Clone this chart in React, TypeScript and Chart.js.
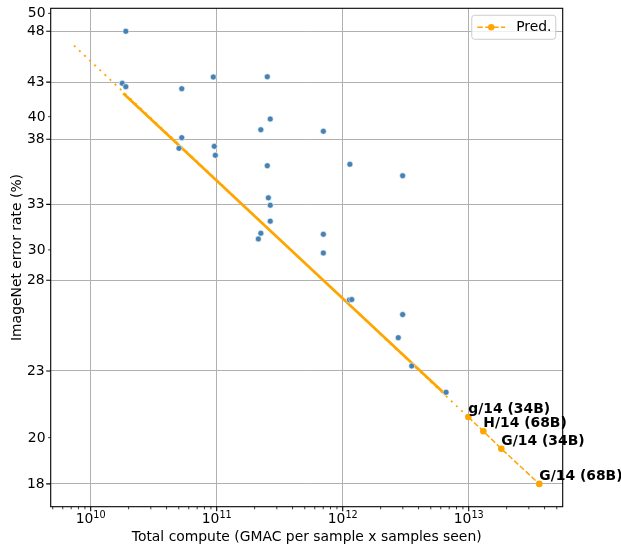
import React, { useEffect, useRef } from 'react';
import { Chart, registerables } from 'chart.js';

Chart.register(...registerables);

const FONT = "'DejaVu Sans', sans-serif";

// Observed models: total compute (GMAC) and ImageNet error rate (%)
const obsCompute = [
  1.9e10, 1.78e10, 1.9e10, 5.28e10, 5.28e10, 5.02e10, 9.4e10, 2.52e11, 2.66e11, 2.24e11,
  7.02e11, 9.57e10, 9.75e10, 2.52e11, 1.14e12, 2.57e11, 2.66e11, 2.66e11, 2.24e11, 2.14e11,
  7.02e11, 7.02e11, 2.99e12, 1.13e12, 1.18e12, 2.76e12, 2.99e12, 3.53e12, 6.61e12,
];
const obsError = [
  48.1, 42.99, 42.68, 42.49, 38.23, 37.36, 43.58, 43.6, 39.8, 38.89,
  38.76, 37.52, 36.8, 35.98, 36.09, 33.57, 33.04, 31.92, 31.1, 30.72,
  31.03, 29.8, 35.21, 26.93, 26.95, 24.82, 26.09, 23.35, 22.06,
];

// Predicted models
const predLabels = ['g/14 (34B)', 'H/14 (68B)', 'G/14 (34B)', 'G/14 (68B)'];
const predCompute = [9.93e12, 1.306e13, 1.814e13, 3.63e13];
const predError = [20.91, 20.28, 19.53, 18.1];

// Fitted power law: solid over observed range, dotted extrapolation
const fitSolidCompute = [1.81e10, 6.61e12];
const fitSolidError = [42.08, 21.93];
const fitDottedCompute = [7.37e9, 9.93e12];
const fitDottedError = [46.64, 20.91];

// Axes
const xRange = [4.815e9, 5.57e13];
const yRange = [17.23, 50.55];
const xMajorTicks = [1e10, 1e11, 1e12, 1e13];
const xMajorExponents = ['10', '11', '12', '13'];
const yMajorTicks = [18.1, 23.1, 28.1, 33.1, 38.1, 43.1, 48.1];
const yMajorLabels = ['18', '23', '28', '33', '38', '43', '48'];
const yMinorTicks = [20, 30, 40, 50];
const yMinorLabels = ['20', '30', '40', '50'];

const xTitle = 'Total compute (GMAC per sample x samples seen)';
const yTitle = 'ImageNet error rate (%)';
const legendLabel = 'Pred.';

const ORANGE = '#ffa500';
const BLUE = '#4682b4';

const toPoints = (xs: number[], ys: number[]) => xs.map((x, i) => ({ x, y: ys[i] }));

const xMinorTicks = (() => {
  const out: number[] = [];
  for (let e = 9; e <= 13; e++) {
    for (let m = 2; m <= 9; m++) {
      const v = m * Math.pow(10, e);
      if (v > xRange[0] && v < xRange[1]) out.push(v);
    }
  }
  return out;
})();

const mplPlugin = {
  id: 'mplAxes',
  afterDraw(chart: any) {
    const ctx = chart.ctx as CanvasRenderingContext2D;
    const { left, right, top, bottom } = chart.chartArea;
    const xs = chart.scales.x;
    const ys = chart.scales.y;
    const TL = 4.5;
    const TLm = 2.6;
    ctx.save();

    // annotations for predictions
    ctx.fillStyle = '#000';
    ctx.font = `bold 13.9px ${FONT}`;
    ctx.textAlign = 'left';
    ctx.textBaseline = 'alphabetic';
    predLabels.forEach((lab, i) => {
      const px = xs.getPixelForValue(predCompute[i]);
      const py = ys.getPixelForValue(predError[i]);
      ctx.fillText(lab, px, py - 4);
    });

    // frame
    ctx.strokeStyle = '#000';
    ctx.lineWidth = 1.1;
    ctx.setLineDash([]);
    ctx.strokeRect(left, top, right - left, bottom - top);

    // x ticks
    ctx.lineWidth = 1.1;
    ctx.beginPath();
    xMajorTicks.forEach((v) => {
      const p = xs.getPixelForValue(v);
      ctx.moveTo(p, bottom);
      ctx.lineTo(p, bottom + TL);
    });
    ctx.stroke();
    ctx.lineWidth = 0.8;
    ctx.beginPath();
    xMinorTicks.forEach((v) => {
      const p = xs.getPixelForValue(v);
      ctx.moveTo(p, bottom);
      ctx.lineTo(p, bottom + TLm);
    });
    ctx.stroke();

    // x tick labels 10^n
    xMajorTicks.forEach((v, i) => {
      const p = xs.getPixelForValue(v);
      ctx.font = `13.9px ${FONT}`;
      const wb = ctx.measureText('10').width;
      ctx.font = `9.7px ${FONT}`;
      const we = ctx.measureText(xMajorExponents[i]).width;
      const start = p - (wb + we) / 2;
      ctx.font = `13.9px ${FONT}`;
      ctx.textAlign = 'left';
      ctx.textBaseline = 'alphabetic';
      ctx.fillText('10', start, 523.3);
      ctx.font = `9.7px ${FONT}`;
      ctx.fillText(xMajorExponents[i], start + wb, 518.3);
    });

    // y ticks
    ctx.lineWidth = 1.1;
    ctx.beginPath();
    yMajorTicks.forEach((v) => {
      const p = ys.getPixelForValue(v);
      ctx.moveTo(left, p);
      ctx.lineTo(left - TL, p);
    });
    ctx.stroke();
    ctx.lineWidth = 0.8;
    ctx.beginPath();
    yMinorTicks.forEach((v) => {
      const p = ys.getPixelForValue(v);
      ctx.moveTo(left, p);
      ctx.lineTo(left - TLm, p);
    });
    ctx.stroke();

    ctx.font = `13.9px ${FONT}`;
    ctx.textAlign = 'right';
    ctx.textBaseline = 'middle';
    yMajorTicks.forEach((v, i) => {
      ctx.fillText(yMajorLabels[i], left - 6, ys.getPixelForValue(v) + 0.5);
    });
    yMinorTicks.forEach((v, i) => {
      ctx.fillText(yMinorLabels[i], left - 5.2, ys.getPixelForValue(v) + 0.5);
    });

    // axis titles
    ctx.textAlign = 'center';
    ctx.textBaseline = 'alphabetic';
    ctx.fillText(xTitle, (left + right) / 2, 541);
    ctx.save();
    ctx.translate(20.8, (top + bottom) / 2);
    ctx.rotate(-Math.PI / 2);
    ctx.fillText(yTitle, 0, 0);
    ctx.restore();

    // legend
    const lx0 = right - 6.95 - 84;
    const ly0 = top + 6.95;
    const lw = 84;
    const lh = 24;
    ctx.beginPath();
    const r = 2.8;
    ctx.moveTo(lx0 + r, ly0);
    ctx.lineTo(lx0 + lw - r, ly0);
    ctx.quadraticCurveTo(lx0 + lw, ly0, lx0 + lw, ly0 + r);
    ctx.lineTo(lx0 + lw, ly0 + lh - r);
    ctx.quadraticCurveTo(lx0 + lw, ly0 + lh, lx0 + lw - r, ly0 + lh);
    ctx.lineTo(lx0 + r, ly0 + lh);
    ctx.quadraticCurveTo(lx0, ly0 + lh, lx0, ly0 + lh - r);
    ctx.lineTo(lx0, ly0 + r);
    ctx.quadraticCurveTo(lx0, ly0, lx0 + r, ly0);
    ctx.closePath();
    ctx.fillStyle = 'rgba(255,255,255,0.8)';
    ctx.fill();
    ctx.strokeStyle = '#cccccc';
    ctx.lineWidth = 1;
    ctx.stroke();
    const cy = ly0 + lh / 2;
    const hx0 = lx0 + 5.56;
    const hx1 = hx0 + 27.8;
    ctx.strokeStyle = ORANGE;
    ctx.lineWidth = 1.5;
    ctx.setLineDash([5.5, 2.4]);
    ctx.beginPath();
    ctx.moveTo(hx0, cy);
    ctx.lineTo(hx1, cy);
    ctx.stroke();
    ctx.setLineDash([]);
    ctx.fillStyle = ORANGE;
    ctx.beginPath();
    ctx.arc((hx0 + hx1) / 2, cy, 3.2, 0, Math.PI * 2);
    ctx.fill();
    ctx.fillStyle = '#000';
    ctx.font = `13.9px ${FONT}`;
    ctx.textAlign = 'left';
    ctx.textBaseline = 'middle';
    ctx.fillText(legendLabel, hx1 + 11.1, cy + 0.5);

    ctx.restore();
  },
};

export default function App() {
  const ref = useRef<HTMLCanvasElement | null>(null);

  useEffect(() => {
    if (!ref.current) return;
    const chart = new Chart(ref.current, {
      type: 'scatter',
      data: {
        datasets: [
          {
            label: 'Pred.',
            data: toPoints(predCompute, predError),
            showLine: true,
            borderColor: ORANGE,
            backgroundColor: ORANGE,
            borderWidth: 1.5,
            borderDash: [5.5, 2.4],
            pointRadius: 3.3,
            pointBorderWidth: 0,
            pointBackgroundColor: ORANGE,
            order: 0,
          },
          {
            label: 'Observed',
            data: toPoints(obsCompute, obsError),
            showLine: false,
            backgroundColor: BLUE,
            borderColor: '#ffffff',
            borderWidth: 0.6,
            pointRadius: 3,
            order: 1,
          },
          {
            label: 'Fit',
            data: toPoints(fitSolidCompute, fitSolidError),
            showLine: true,
            borderColor: ORANGE,
            borderWidth: 2.7,
            pointRadius: 0,
            order: 2,
          },
          {
            label: 'Fit extrapolation',
            data: toPoints(fitDottedCompute, fitDottedError),
            showLine: true,
            borderColor: ORANGE,
            borderWidth: 1.8,
            borderDash: [2, 5],
            pointRadius: 0,
            order: 3,
          },
        ],
      },
      options: {
        animation: false,
        responsive: false,
        devicePixelRatio: 1,
        layout: { padding: { left: 0, top: 8.3, right: 58.3, bottom: 0 } },
        plugins: { legend: { display: false }, tooltip: { enabled: false } },
        scales: {
          x: {
            type: 'logarithmic',
            min: xRange[0],
            max: xRange[1],
            afterBuildTicks: (s: any) => {
              s.ticks = xMajorTicks.map((v) => ({ value: v }));
            },
            afterFit: (s: any) => {
              s.height = 41.3;
            },
            ticks: { display: false },
            grid: { color: '#b0b0b0', lineWidth: 1, drawTicks: false },
            border: { display: false },
          },
          y: {
            type: 'logarithmic',
            min: yRange[0],
            max: yRange[1],
            afterBuildTicks: (s: any) => {
              s.ticks = yMajorTicks.map((v) => ({ value: v }));
            },
            afterFit: (s: any) => {
              s.width = 50.7;
            },
            ticks: { display: false },
            grid: { color: '#b0b0b0', lineWidth: 1, drawTicks: false },
            border: { display: false },
          },
        },
      },
      plugins: [mplPlugin],
    });
    return () => chart.destroy();
  }, []);

  return (
    <div style={{ position: 'fixed', left: 0, top: 0, width: 621, height: 548, background: '#fff' }}>
      <canvas ref={ref} width={621} height={548} style={{ display: 'block' }} />
    </div>
  );
}
